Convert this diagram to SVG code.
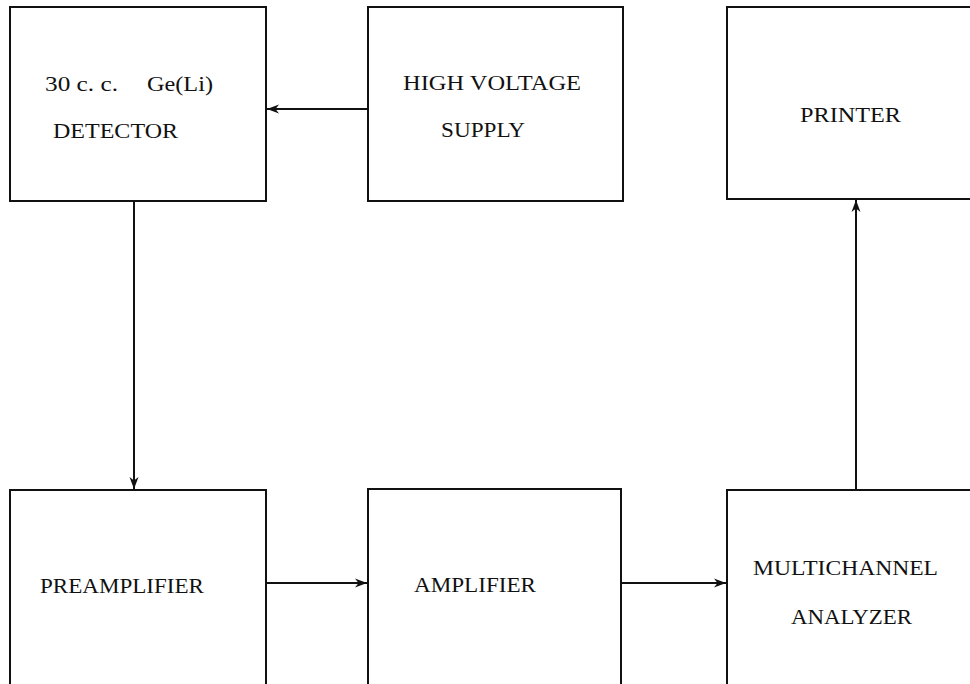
<svg xmlns="http://www.w3.org/2000/svg" width="970" height="684" viewBox="0 0 970 684">
<style>
.box{fill:none;stroke:#111;stroke-width:2}
.lbl{font-family:"Liberation Serif","Times New Roman",serif;font-size:21px;fill:#111}
.conn{stroke:#111;stroke-width:2;fill:none}
</style>
<defs>
<marker id="arr" markerWidth="14" markerHeight="12" refX="12" refY="6" orient="auto" markerUnits="userSpaceOnUse">
<path d="M0,1.5 L12,6 L0,10.5 L3.5,6 z" fill="#111"/>
</marker>
</defs>
<rect width="970" height="684" fill="#fff"/>
<g id="detector">
<rect class="box" x="10" y="7" width="256" height="194"/>
<text class="lbl" x="45" y="91" textLength="73" lengthAdjust="spacingAndGlyphs">30 c. c.</text>
<text class="lbl" x="147" y="91" textLength="66" lengthAdjust="spacingAndGlyphs">Ge(Li)</text>
<text class="lbl" x="53" y="138" textLength="125" lengthAdjust="spacingAndGlyphs">DETECTOR</text>
</g>
<g id="hv">
<rect class="box" x="368" y="7" width="255" height="194"/>
<text class="lbl" x="403" y="90" textLength="178" lengthAdjust="spacingAndGlyphs">HIGH VOLTAGE</text>
<text class="lbl" x="441" y="137" textLength="84" lengthAdjust="spacingAndGlyphs">SUPPLY</text>
</g>
<g id="printer">
<path class="box" d="M975,7 H727 V199 H975"/>
<text class="lbl" x="800" y="122" textLength="101" lengthAdjust="spacingAndGlyphs">PRINTER</text>
</g>
<g id="preamp">
<path class="box" d="M10,690 V490 H266 V690"/>
<text class="lbl" x="40" y="593" textLength="164" lengthAdjust="spacingAndGlyphs">PREAMPLIFIER</text>
</g>
<g id="amp">
<path class="box" d="M368,690 V489 H621 V690"/>
<text class="lbl" x="414" y="592" textLength="122" lengthAdjust="spacingAndGlyphs">AMPLIFIER</text>
</g>
<g id="mca">
<path class="box" d="M727,690 V490 H975"/>
<text class="lbl" x="753" y="575" textLength="185" lengthAdjust="spacingAndGlyphs">MULTICHANNEL</text>
<text class="lbl" x="791" y="624" textLength="121" lengthAdjust="spacingAndGlyphs">ANALYZER</text>
</g>
<g id="connectors">
<line class="conn" x1="368" y1="109" x2="267" y2="109" marker-end="url(#arr)"/>
<line class="conn" x1="134" y1="201" x2="134" y2="489" marker-end="url(#arr)"/>
<line class="conn" x1="266" y1="583" x2="367" y2="583" marker-end="url(#arr)"/>
<line class="conn" x1="621" y1="583" x2="726" y2="583" marker-end="url(#arr)"/>
<line class="conn" x1="856" y1="490" x2="856" y2="200" marker-end="url(#arr)"/>
</g>
</svg>
